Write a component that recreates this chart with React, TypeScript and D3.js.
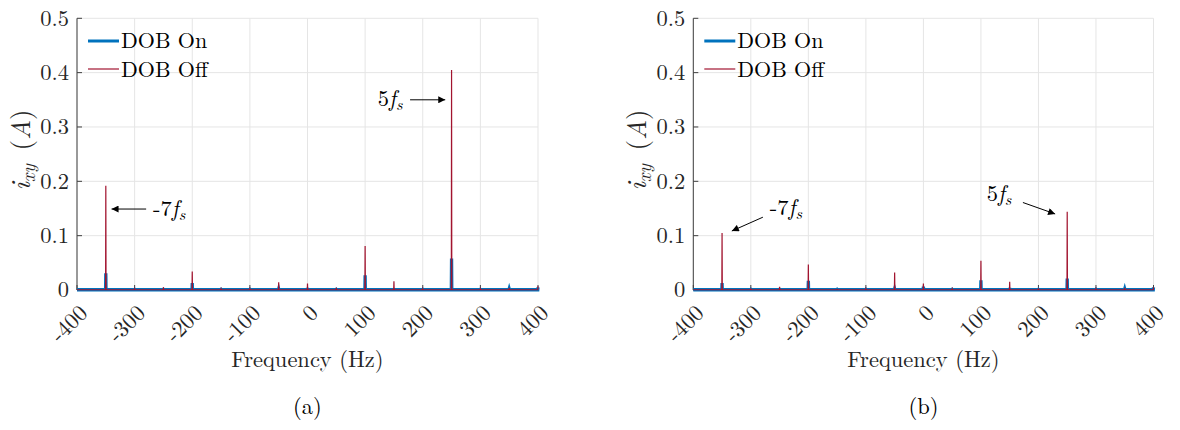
import React from 'react';
import * as d3 from 'd3';

// ---- data ----
const freqTicks = [-400, -300, -200, -100, 0, 100, 200, 300, 400];
const ampTicks = [0, 0.1, 0.2, 0.3, 0.4, 0.5];
const harmonicFreqs = [-350, -300, -250, -200, -150, -100, -50, 0, 50, 100, 150, 200, 250, 300, 350, 400];
// Panel (a)
const dobOffA = [0.192, 0.002, 0.005, 0.034, 0.002, 0.002, 0.014, 0.012, 0.004, 0.081, 0.016, 0.002, 0.405, 0.002, 0.004, 0.007];
const dobOnA = [0.031, 0.001, 0.001, 0.013, 0.001, 0.001, 0.002, 0.004, 0.001, 0.027, 0.003, 0.001, 0.058, 0.001, 0.002, 0.005];
// Panel (b)
const dobOffB = [0.105, 0.003, 0.006, 0.047, 0.001, 0.002, 0.032, 0.012, 0.002, 0.054, 0.015, 0.003, 0.144, 0.002, 0.004, 0.005];
const dobOnB = [0.013, 0.001, 0.001, 0.017, 0.001, 0.001, 0.002, 0.006, 0.001, 0.018, 0.004, 0.001, 0.021, 0.001, 0.002, 0.005];
const noiseFloor = 0.0005;
const seriesNames = ['DOB On', 'DOB Off'];
const panelLabels = ['(a)', '(b)'];

const BLUE = '#0072BD';
const RED = '#A2142F';
const FONT = '"Latin Modern Roman", "Liberation Serif", serif';
const TXT = '#262626';
const fs = (size: number, extra: React.CSSProperties = {}): React.CSSProperties => ({ fontFamily: FONT, fontSize: size, ...extra });

type Ann = { text: string; tf: number; ty: number; fromF: number; fromY: number; toF: number; toY: number };

function buildPoints(vals: number[]): [number, number][] {
  const pts: [number, number][] = [[-400, noiseFloor]];
  harmonicFreqs.forEach((f, i) => {
    if (f > -400) pts.push([f - 0.4, noiseFloor]);
    pts.push([f, vals[i]]);
    if (f < 400) pts.push([f + 0.4, noiseFloor]);
  });
  if (harmonicFreqs[harmonicFreqs.length - 1] < 400) pts.push([400, noiseFloor]);
  return pts;
}

function MathLabel({ pre, x, y }: { pre: string; x: number; y: number }) {
  return (
    <text x={x} y={y} style={fs(22.5)} fill="#000">
      <tspan>{pre}</tspan>
      <tspan style={{ fontStyle: 'italic' }}>f</tspan>
      <tspan style={{ fontStyle: 'italic', fontSize: 16 }} dy={4}>s</tspan>
    </text>
  );
}

function Panel({ id, x0, x1, on, off, label, anns }: { id: string; x0: number; x1: number; on: number[]; off: number[]; label: string; anns: Ann[] }) {
  const yTop = 18.3;
  const yBot = 290;
  const x = d3.scaleLinear().domain([-400, 400]).range([x0, x1]);
  const y = d3.scaleLinear().domain([0, 0.5]).range([yBot, yTop]);
  const line = d3.line<[number, number]>().x(d => x(d[0])).y(d => y(d[1]));
  const onPath = line(buildPoints(on)) || '';
  const offPath = line(buildPoints(off)) || '';
  const cx = (x0 + x1) / 2;
  return (
    <g>
      {freqTicks.map(t => (
        <line key={'gx' + t} x1={x(t)} x2={x(t)} y1={yTop} y2={yBot} stroke="#e5e5e5" strokeWidth={1} />
      ))}
      {ampTicks.map(t => (
        <line key={'gy' + t} x1={x0} x2={x1} y1={y(t)} y2={y(t)} stroke="#e5e5e5" strokeWidth={1} />
      ))}
      <line x1={x0} x2={x0} y1={yTop} y2={yBot} stroke="#404040" strokeWidth={1} />
      <line x1={x0} x2={x1} y1={yBot} y2={yBot} stroke="#404040" strokeWidth={1} />
      {ampTicks.map(t => (
        <line key={'ty' + t} x1={x0} x2={x0 + 5} y1={y(t)} y2={y(t)} stroke="#404040" strokeWidth={1} />
      ))}
      {freqTicks.map(t => (
        <line key={'tx' + t} x1={x(t)} x2={x(t)} y1={yBot} y2={yBot - 5} stroke="#404040" strokeWidth={1} />
      ))}
      <path d={onPath} fill="none" stroke={BLUE} strokeWidth={3.3} />
      <path d={offPath} fill="none" stroke={RED} strokeWidth={1.2} />
      {ampTicks.map(t => (
        <text key={'ly' + t} x={x0 - 8} y={y(t)} dy="0.33em" textAnchor="end" style={fs(22.5)} fill={TXT}>
          {t === 0 ? '0' : d3.format('.1f')(t)}
        </text>
      ))}
      {freqTicks.map(t => (
        <text key={'lx' + t} transform={`translate(${x(t) + 6.5},${309}) rotate(-45)`} dy="0.33em" textAnchor="end" style={fs(22.5)} fill={TXT}>
          {String(t)}
        </text>
      ))}
      <text x={cx} y={367} textAnchor="middle" style={fs(22.5)} fill={TXT}>Frequency (Hz)</text>
      <text transform={`translate(${x0 - 55},${150}) rotate(-90)`} textAnchor="middle" dy="0.3em" style={fs(27)} fill={TXT}>
        <tspan style={{ fontStyle: 'italic' }}>i</tspan>
        <tspan style={{ fontStyle: 'italic', fontSize: 19 }} dy={5}>xy</tspan>
        <tspan dy={-5}>{'\u00a0('}</tspan>
        <tspan style={{ fontStyle: 'italic' }}>A</tspan>
        <tspan>)</tspan>
      </text>
      <line x1={x0 + 11} x2={x0 + 42} y1={41} y2={41} stroke={BLUE} strokeWidth={3} />
      <text x={x0 + 44} y={47.5} style={fs(22)} fill="#000">{seriesNames[0]}</text>
      <line x1={x0 + 11} x2={x0 + 42} y1={69} y2={69} stroke={RED} strokeWidth={1.2} />
      <text x={x0 + 44} y={76.5} style={fs(22)} fill="#000">{seriesNames[1]}</text>
      {anns.map((a, i) => (
        <g key={'an' + i}>
          <line x1={x(a.fromF)} y1={y(a.fromY)} x2={x(a.toF)} y2={y(a.toY)} stroke="#000" strokeWidth={1} markerEnd={`url(#arrow-${id})`} />
          <MathLabel pre={a.text} x={x(a.tf)} y={y(a.ty)} />
        </g>
      ))}
      <defs>
        <marker id={`arrow-${id}`} viewBox="0 0 10 10" refX={10} refY={5} markerWidth={9} markerHeight={7} markerUnits="userSpaceOnUse" orient="auto">
          <path d="M0,0 L10,5 L0,10 z" fill="#000" />
        </marker>
      </defs>
      <text x={cx} y={414} textAnchor="middle" style={fs(22.5)} fill="#000">{label}</text>
    </g>
  );
}

const annsA: Ann[] = [
  { text: '-7', tf: -268, ty: 0.137, fromF: -280, fromY: 0.149, toF: -340, toY: 0.149 },
  { text: '5', tf: 122, ty: 0.338, fromF: 178, fromY: 0.35, toF: 239, toY: 0.35 },
];
const annsB: Ann[] = [
  { text: '-7', tf: -267, ty: 0.138, fromF: -279, fromY: 0.134, toF: -333, toY: 0.1086 },
  { text: '5', tf: 110, ty: 0.163, fromF: 173, fromY: 0.161, toF: 229, toY: 0.14 },
];

export default function App() {
  return (
    <svg width={1180} height={430} style={{ position: 'absolute', left: 0, top: 0, background: '#fff' }}>
      <rect x={0} y={0} width={1180} height={430} fill="#fff" />
      <Panel id="a" x0={77} x1={538} on={dobOnA} off={dobOffA} label={panelLabels[0]} anns={annsA} />
      <Panel id="b" x0={693.3} x1={1153.5} on={dobOnB} off={dobOffB} label={panelLabels[1]} anns={annsB} />
    </svg>
  );
}
